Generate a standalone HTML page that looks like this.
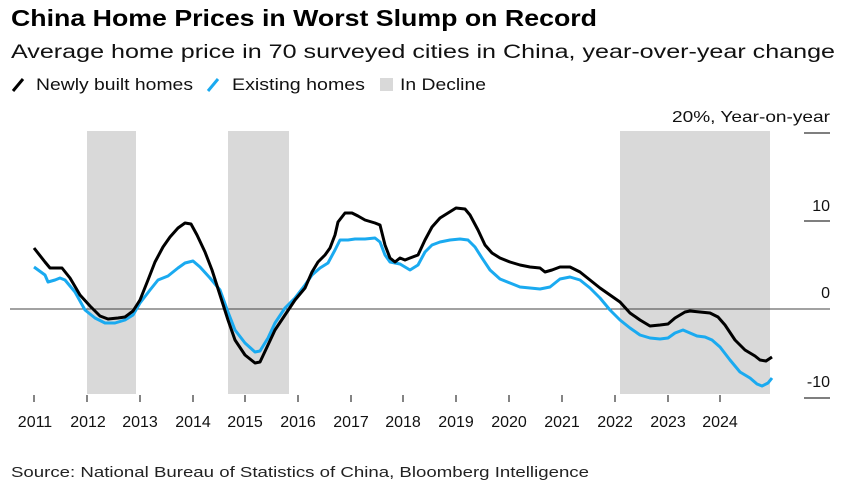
<!DOCTYPE html><html><head><style>body{margin:0;background:#fff;font-family:"Liberation Sans",sans-serif}</style></head><body>
<svg width="847" height="497" xmlns="http://www.w3.org/2000/svg" font-family="Liberation Sans, sans-serif">
<text x="11" y="26" font-size="23" font-weight="bold" fill="#000" textLength="586" lengthAdjust="spacingAndGlyphs">China Home Prices in Worst Slump on Record</text>
<text x="11" y="58" font-size="19" fill="#111" textLength="824" lengthAdjust="spacingAndGlyphs">Average home price in 70 surveyed cities in China, year-over-year change</text>
<line x1="13" y1="91" x2="23" y2="79" stroke="#000" stroke-width="3"/>
<text x="36" y="90" font-size="17" fill="#111" textLength="157" lengthAdjust="spacingAndGlyphs">Newly built homes</text>
<line x1="208" y1="91" x2="218" y2="79" stroke="#1aaaf0" stroke-width="3"/>
<text x="232" y="90" font-size="17" fill="#111" textLength="133" lengthAdjust="spacingAndGlyphs">Existing homes</text>
<rect x="380" y="78" width="13" height="13" fill="#d9d9d9"/>
<text x="400" y="90" font-size="17" fill="#111" textLength="86" lengthAdjust="spacingAndGlyphs">In Decline</text>
<rect x="87" y="131" width="49" height="263" fill="#d9d9d9"/>
<rect x="228" y="131" width="61" height="263" fill="#d9d9d9"/>
<rect x="620" y="131" width="150" height="263" fill="#d9d9d9"/>
<line x1="10" y1="309" x2="830" y2="309" stroke="#444" stroke-width="1"/>
<g stroke="#333" stroke-width="1.2"><line x1="804" y1="133" x2="830" y2="133"/><line x1="804" y1="221" x2="830" y2="221"/><line x1="804" y1="398" x2="830" y2="398"/></g>
<g font-size="16" fill="#111" text-anchor="end"><text x="830" y="122" textLength="158" lengthAdjust="spacingAndGlyphs">20%, Year-on-year</text><text x="830" y="211">10</text><text x="830" y="298">0</text><text x="830" y="387">-10</text></g>
<g stroke="#333" stroke-width="1.2">
<line x1="34" y1="395" x2="34" y2="402"/><line x1="87" y1="395" x2="87" y2="402"/><line x1="140" y1="395" x2="140" y2="402"/><line x1="193" y1="395" x2="193" y2="402"/><line x1="245" y1="395" x2="245" y2="402"/><line x1="298" y1="395" x2="298" y2="402"/><line x1="351" y1="395" x2="351" y2="402"/><line x1="403" y1="395" x2="403" y2="402"/><line x1="456" y1="395" x2="456" y2="402"/><line x1="509" y1="395" x2="509" y2="402"/><line x1="562" y1="395" x2="562" y2="402"/><line x1="615" y1="395" x2="615" y2="402"/><line x1="668" y1="395" x2="668" y2="402"/><line x1="720" y1="395" x2="720" y2="402"/></g>
<g font-size="16" fill="#111" text-anchor="middle">
<text x="35" y="427">2011</text><text x="88" y="427">2012</text><text x="140" y="427">2013</text><text x="193" y="427">2014</text><text x="245" y="427">2015</text><text x="298" y="427">2016</text><text x="351" y="427">2017</text><text x="403" y="427">2018</text><text x="456" y="427">2019</text><text x="509" y="427">2020</text><text x="562" y="427">2021</text><text x="615" y="427">2022</text><text x="668" y="427">2023</text><text x="720" y="427">2024</text></g>
<polyline fill="none" stroke="#1aaaf0" stroke-width="3" stroke-linejoin="round" points="34,267 45,275 48,282 55,280 60,278 65,280 75,292 85,310 95,318 105,323 115,323 125,320 133,315 140,303 150,290 158,280 168,276 178,268 185,263 193,261 200,267 210,278 220,290 228,312 235,330 245,343 255,352 260,351 268,338 275,323 285,308 295,298 305,285 312,275 320,268 328,263 335,250 340,240 348,240 355,239 365,239 375,238 380,242 385,255 390,262 400,264 410,270 418,265 425,252 432,245 440,242 450,240 460,239 468,240 475,247 482,258 490,270 500,279 510,283 520,287 530,288 540,289 550,287 560,279 570,277 580,280 590,288 600,298 610,310 620,320 630,328 640,335 650,338 660,339 668,338 675,333 683,330 690,333 697,336 705,337 712,340 720,347 730,360 740,372 750,378 757,384 762,386 768,383 772,378"/>
<polyline fill="none" stroke="#000" stroke-width="3" stroke-linejoin="round" points="34,248 45,262 50,268 57,268 62,268 70,278 80,295 90,306 100,316 108,319 118,318 125,317 133,311 140,300 148,280 155,262 163,247 170,237 178,228 185,223 191,224 197,235 205,252 212,270 220,295 228,320 235,340 245,355 255,363 260,362 268,345 275,330 285,315 295,300 305,288 312,272 318,262 325,255 330,248 335,235 338,222 345,213 352,213 358,216 365,220 375,223 380,225 385,245 390,258 395,262 400,258 405,260 410,258 418,255 425,240 432,227 440,218 448,213 456,208 465,209 470,215 478,230 485,245 492,253 500,258 510,262 520,265 530,267 540,268 545,272 552,270 560,267 570,267 580,272 590,280 600,288 610,295 620,302 630,313 640,320 650,326 660,325 668,324 675,318 685,312 690,311 700,312 710,313 718,317 725,325 735,340 745,350 755,356 760,360 766,361 772,357"/>
<text x="11" y="477" font-size="15" fill="#222" textLength="578" lengthAdjust="spacingAndGlyphs">Source: National Bureau of Statistics of China, Bloomberg Intelligence</text>
</svg></body></html>
